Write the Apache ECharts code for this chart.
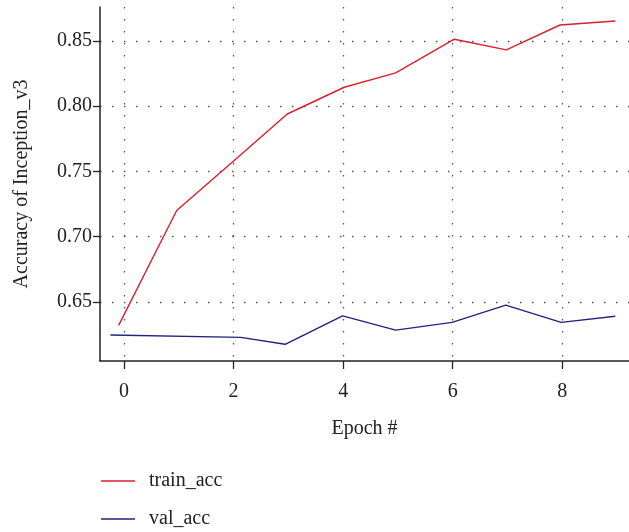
<!DOCTYPE html>
<html><head><meta charset="utf-8">
<script src="https://cdn.jsdelivr.net/npm/echarts@6/dist/echarts.min.js"></script>
<style>html,body{margin:0;padding:0;background:#fff}#c{width:629px;height:532px}</style>
</head><body><div id="c"></div>
<script>
const trainEpochs = [-0.1, 0.96, 2.0, 2.98, 4.02, 4.96, 6.03, 6.98, 7.96, 8.97];
const trainAcc    = [0.632, 0.720, 0.758, 0.794, 0.8145, 0.8255, 0.8513, 0.8431, 0.8622, 0.8653];
const valEpochs   = [-0.25, 2.13, 2.94, 3.99, 4.96, 5.99, 6.97, 7.98, 8.97];
const valAcc      = [0.6246, 0.6228, 0.6175, 0.6393, 0.6284, 0.6343, 0.6475, 0.6343, 0.639];
const xTicks = [0, 2, 4, 6, 8];
const yTicks = [0.65, 0.70, 0.75, 0.80, 0.85];
const seriesNames = ['train_acc', 'val_acc'];

const font = 'Liberation Serif';
const fs = 20;
const toPairs = (xs, ys) => xs.map((x, i) => [x, ys[i]]);
const grid = {type: [1.5, 10.5], color: '#555', width: 1.3};
const chart = echarts.init(document.getElementById('c'), null, {renderer: 'canvas'});
chart.setOption({
  animation: false,
  backgroundColor: '#fff',
  textStyle: {fontFamily: font},
  grid: {left: 100, right: 0, top: 7, bottom: 171, containLabel: false},
  legend: {
    orient: 'vertical', left: 101, top: 471, itemGap: 18, padding: 0,
    itemWidth: 34, itemHeight: 1.5, icon: 'rect',
    textStyle: {fontFamily: font, fontSize: fs, color: '#222', padding: [0, 0, 0, 9]},
    data: seriesNames
  },
  xAxis: {
    type: 'value', min: -0.44, max: 9.22,
    name: 'Epoch #', nameLocation: 'middle', nameGap: 58,
    nameTextStyle: {fontFamily: font, fontSize: fs, color: '#222'},
    axisLine: {show: true, onZero: false, lineStyle: {color: '#222', width: 1.5}},
    axisTick: {show: true, customValues: xTicks, length: 8, lineStyle: {color: '#222', width: 1.3}},
    axisLabel: {customValues: xTicks, fontFamily: font, fontSize: fs, color: '#222', margin: 21},
    splitLine: {show: true, lineStyle: grid}
  },
  yAxis: {
    type: 'value', min: 0.6047, max: 0.876,
    name: 'Accuracy of Inception_v3', nameLocation: 'middle', nameGap: 68, nameRotate: 90,
    nameTextStyle: {fontFamily: font, fontSize: fs, color: '#222'},
    axisLine: {show: true, onZero: false, lineStyle: {color: '#222', width: 1.5}},
    axisTick: {show: true, customValues: yTicks, length: 7, lineStyle: {color: '#222', width: 1.3}},
    axisLabel: {customValues: yTicks, formatter: v => v.toFixed(2), fontFamily: font, fontSize: fs, color: '#222', margin: 8},
    splitLine: {show: true, lineStyle: grid}
  },
  series: [
    {name: seriesNames[0], type: 'line', data: toPairs(trainEpochs, trainAcc), symbol: 'none',
     lineStyle: {color: '#d9202b', width: 1.4}, itemStyle: {color: '#d9202b'}},
    {name: seriesNames[1], type: 'line', data: toPairs(valEpochs, valAcc), symbol: 'none',
     lineStyle: {color: '#23237d', width: 1.4}, itemStyle: {color: '#23237d'}}
  ]
});
</script></body></html>
